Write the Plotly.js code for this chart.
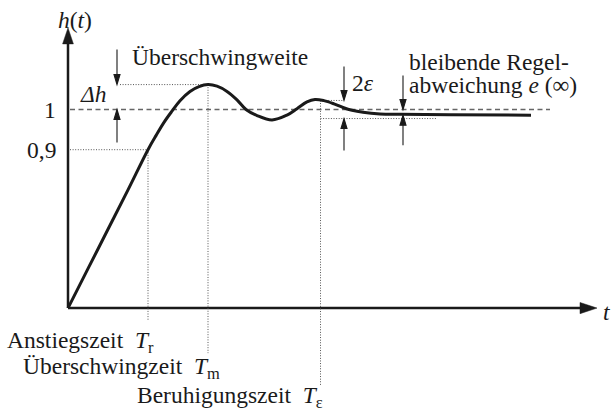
<!DOCTYPE html>
<html>
<head>
<meta charset="utf-8">
<script src="https://cdn.plot.ly/plotly-3.0.1.min.js"></script>
<style>
  html, body { margin: 0; padding: 0; background: #fff; }
  #chart { width: 612px; height: 413px; }
</style>
</head>
<body>
<div id="chart"></div>
<script>
// Step response h(t) of a control loop (schematic, truncated h axis)
const tSamples = [0, 0.4, 0.8, 1.2, 1.6, 1.76, 1.92, 2.08, 2.24, 2.44, 2.62, 2.8, 2.98, 3.18,
                  3.38, 3.56, 3.78, 4.08, 4.38, 4.58, 4.78, 4.94, 5.12, 5.32, 5.5, 5.68, 5.9,
                  6.24, 6.64, 7.64, 9.26];
const hSamples = [0.506, 0.604, 0.702, 0.800, 0.900, 0.935, 0.968, 0.996, 1.022, 1.045, 1.057,
                  1.062, 1.058, 1.045, 1.024, 1.000, 0.985, 0.974, 0.986, 1.002, 1.019, 1.025,
                  1.022, 1.014, 1.005, 0.998, 0.993, 0.989, 0.988, 0.987, 0.986];

// Characteristic times
const Tr = 1.6;    // Anstiegszeit
const Tm = 2.8;    // Überschwingzeit
const Te = 5.05;   // Beruhigungszeit

// Characteristic levels
const hRise = 0.9;
const hSet = 1;
const hPeak = 1.062;
const hInf = 0.986;
const eps = 0.0225;

// Axis extents
const hBase = 0.506;   // lower end of the h axis
const hTip = 1.203;    // tip of the h axis arrow
const tTip = 10.58;    // tip of the t axis arrow

// Tick labels on the h axis
const tickVals = [0.9, 1];
const tickText = ['0,9', '1'];

const ink = '#1a1a1a';
const guide = '#555';
const serif = '"Liberation Serif", "Times New Roman", serif';
const font = { family: serif, size: 23.5, color: ink };

// Filled arrow head, tip at (x, y); dir = 'up' | 'down' | 'right'; sizes in pixels
function head(x, y, dir, len, half, shaft) {
  let p;
  shaft = shaft || 0;
  if (dir === 'down') p = `M0,${shaft}L0,0M0,0L${-half},${len}L${half},${len}Z`;
  else if (dir === 'up') p = `M0,${-shaft}L0,0M0,0L${-half},${-len}L${half},${-len}Z`;
  else p = `M0,0L${-len},${half}L${-len},${-half}Z`;
  return {
    type: 'path', xref: 'x', yref: 'y', xsizemode: 'pixel', ysizemode: 'pixel',
    xanchor: x, yanchor: y, path: p,
    fillcolor: ink, line: { color: ink, width: dir === 'right' || shaft === 0 ? 0.5 : 1.1 },
    layer: 'above'
  };
}

function seg(x0, y0, x1, y1, dash, color, width) {
  return {
    type: 'line', xref: 'x', yref: 'y', x0, y0, x1, y1,
    line: { color: color || guide, width: width || 1, dash: dash || '1px,1.6px' },
    layer: 'below'
  };
}

// Horizontal positions of the marker arrows
const xDh = 0.98, x2e = 5.52, xInf = 6.7;

const shapes = [
  // axes
  seg(0, hBase, tTip - 0.2, hBase, 'solid', ink, 2.5),
  seg(0, hBase, 0, hTip - 0.02, 'solid', ink, 2.5),
  head(tTip, hBase, 'right', 17, 5.6),
  head(0, hTip, 'up', 16, 5.4),
  // reference level h = 1
  seg(0.04, hSet, 9.64, hSet, '5px,3.5px', '#666', 1.3),
  // rise time
  seg(0.04, hRise, Tr, hRise),
  seg(Tr, hRise, Tr, 0.474),
  // overshoot
  seg(xDh + 0.06, hPeak, Tm, hPeak),
  seg(Tm, hPeak, Tm, 0.394),
  // settling band
  seg(Te, hSet + eps, x2e, hSet + eps),
  seg(Te, hSet - eps, 7.38, hSet - eps),
  seg(Te, hSet + eps, Te, 0.315),
  // marker arrows
  head(xDh, hPeak, 'down', 10, 3, 35),
  head(xDh, hSet, 'up', 10, 3, 33),
  head(x2e, hSet + eps, 'down', 10, 3, 34),
  head(x2e, hSet - eps, 'up', 10, 3, 32),
  head(xInf, hSet, 'down', 10, 3, 34),
  head(xInf, hInf, 'up', 10, 3, 30)
];

function label(text, x, y, xanchor) {
  return { text, x, y, xref: 'x', yref: 'y', xanchor: xanchor || 'left', yanchor: 'middle',
           showarrow: false, font: { family: serif, size: 23.5, color: ink } };
}

const annotations = [
  label('<i>h</i>(<i>t</i>)', 0.14, 1.223, 'center'),
  label('<i>t</i>', 10.66, 0.497),
  label('Überschwingweite', 1.24, 1.131),
  label('<i>Δh</i>', 0.5, 1.038, 'center'),
  label('2<i>ε</i>', 5.64, 1.066),
  label('bleibende Regel-', 6.78, 1.117),
  label('abweichung <i>e</i> (∞)', 6.78, 1.06),
  label('Anstiegszeit  <i>T</i><sub>r</sub>', -1.26, 0.422),
  label('Überschwingzeit  <i>T</i><sub>m</sub>', -0.94, 0.357),
  label('Beruhigungszeit  <i>T</i><sub>ε</sub>', 1.34, 0.284)
];
tickVals.forEach((v, i) => annotations.push(label(tickText[i], -0.2, v, 'right')));

const trace = {
  x: tSamples, y: hSamples, type: 'scatter', mode: 'lines',
  line: { color: ink, width: 3, shape: 'spline', smoothing: 1 },
  hoverinfo: 'skip'
};

const layout = {
  width: 612, height: 413,
  margin: { l: 0, r: 0, t: 0, b: 0 },
  paper_bgcolor: '#fff', plot_bgcolor: '#fff',
  showlegend: false,
  xaxis: { range: [-1.36, 10.88], visible: false, fixedrange: true },
  yaxis: { range: [0.24502, 1.27239], visible: false, fixedrange: true },
  shapes, annotations, font
};

Plotly.newPlot('chart', [trace], layout, { staticPlot: true, displayModeBar: false });
</script>
</body>
</html>
